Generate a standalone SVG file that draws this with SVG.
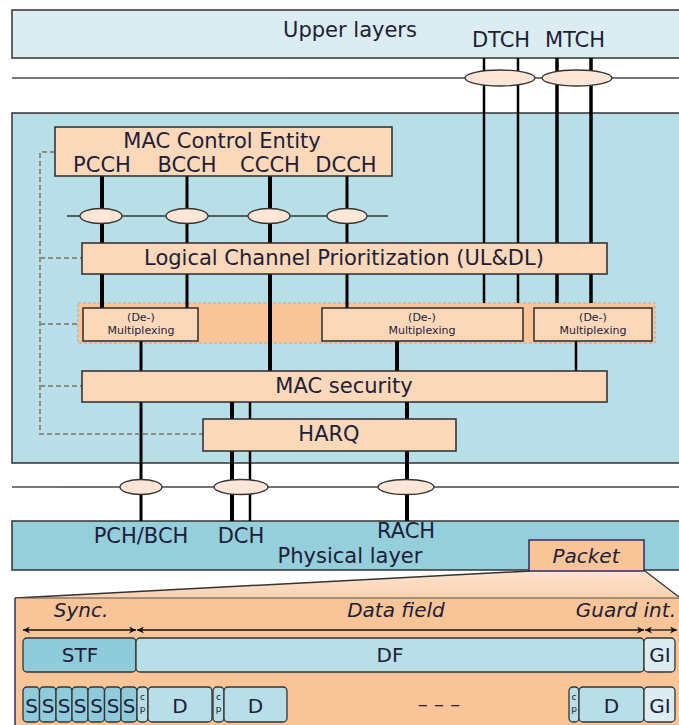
<svg xmlns="http://www.w3.org/2000/svg" width="679" height="725" viewBox="0 0 679 725">
  <defs>
    <style>
      .t { font-family: "DejaVu Sans", Verdana, sans-serif; fill: #1c2038; }
      .big { font-size: 21px; }
      .mid { font-size: 20px; }
      .it { font-style: italic; font-size: 20px; }
      .mux { font-size: 11px; }
      .tiny { font-size: 9px; }
      .box { fill: #fcd8bb; stroke: #2b2b2b; stroke-width: 1.5; }
      .oval { fill: #fde6d7; stroke: #333; stroke-width: 1.3; }
      .ch { stroke: #000; fill: none; }
      .ctl { stroke: #8a8a8a; stroke-width: 2; stroke-dasharray: 5 3; fill: none; }
      .cell { stroke: #333; stroke-width: 1.3; }
    </style>
    <linearGradient id="fan" x1="0" y1="0" x2="0" y2="1">
      <stop offset="0" stop-color="#fde3d0"/>
      <stop offset="1" stop-color="#fad0ad"/>
    </linearGradient>
    <marker id="ah" viewBox="0 0 10 10" refX="10" refY="5" markerWidth="9" markerHeight="7" orient="auto-start-reverse" markerUnits="userSpaceOnUse">
      <path d="M0,0 L10,5 L0,10 L3,5 Z" fill="#111"/>
    </marker>
  </defs>

  <!-- layer backgrounds -->
  <g id="upper-layers">
    <rect x="12" y="10" width="672" height="48" fill="#dcedf2" stroke="#333" stroke-width="1.5"/>
    <text class="t big" x="350" y="37" text-anchor="middle" font-size="22">Upper layers</text>
    <text class="t big" x="501" y="47" text-anchor="middle">DTCH</text>
    <text class="t big" x="575" y="47" text-anchor="middle">MTCH</text>
  </g>

  <g id="mac-area">
    <rect x="12" y="113" width="672" height="350" fill="#b8dee7" stroke="#333" stroke-width="1.5"/>
  </g>

  <g id="physical-layer">
    <rect x="12" y="521" width="672" height="49" fill="#95cfdc" stroke="#333" stroke-width="1.5"/>
    <text class="t big" x="141" y="543" text-anchor="middle" font-size="22">PCH/BCH</text>
    <text class="t big" x="241" y="543" text-anchor="middle" font-size="22">DCH</text>
    <text class="t big" x="406" y="537.5" text-anchor="middle" font-size="22">RACH</text>
    <text class="t big" x="350" y="563" text-anchor="middle" font-size="21.5">Physical layer</text>
  </g>

  <!-- (de-)multiplexing band behind the channel lines -->
  <g id="mux-band">
    <rect x="78" y="303" width="577" height="40" fill="#f9c598" stroke="#b8a896" stroke-width="1" stroke-dasharray="3 2"/>
  </g>

  <!-- channel lines, control lines and SAP ovals -->
  <g id="connectors">
    <!-- service access point rails -->
    <line x1="12" y1="78" x2="679" y2="78" stroke="#444" stroke-width="1.5"/>
    <line x1="12" y1="78" x2="290" y2="78" stroke="#777" stroke-width="2.2"/>
    <line x1="67" y1="216" x2="388" y2="216" stroke="#333" stroke-width="1.3"/>
    <line x1="12" y1="487" x2="679" y2="487" stroke="#444" stroke-width="1.5"/>
    <line x1="12" y1="487" x2="60" y2="487" stroke="#777" stroke-width="2.2"/>

    <!-- DTCH / MTCH -->
    <line class="ch" x1="484" y1="58" x2="484" y2="303" stroke-width="2.5"/>
    <line class="ch" x1="518" y1="58" x2="518" y2="303" stroke-width="2.5"/>
    <line class="ch" x1="557" y1="58" x2="557" y2="303" stroke-width="3.5"/>
    <line class="ch" x1="591" y1="58" x2="591" y2="303" stroke-width="3.5"/>

    <!-- logical control channels -->
    <line class="ch" x1="102" y1="176" x2="102" y2="308" stroke-width="4"/>
    <line class="ch" x1="187" y1="176" x2="187" y2="308" stroke-width="3"/>
    <line class="ch" x1="270" y1="176" x2="270" y2="371" stroke-width="4"/>
    <line class="ch" x1="347" y1="176" x2="347" y2="308" stroke-width="3"/>

    <!-- below (de-)multiplexing -->
    <line class="ch" x1="141" y1="341" x2="141" y2="521" stroke-width="3"/>
    <line class="ch" x1="397" y1="341" x2="397" y2="371" stroke-width="4"/>
    <line class="ch" x1="576" y1="341" x2="576" y2="371" stroke-width="2.5"/>

    <!-- transport channels through HARQ -->
    <line class="ch" x1="232" y1="402" x2="232" y2="521" stroke-width="4"/>
    <line class="ch" x1="250" y1="402" x2="250" y2="521" stroke-width="2.5"/>
    <line class="ch" x1="407" y1="402" x2="407" y2="521" stroke-width="4"/>

    <!-- control path of the MAC control entity -->
    <path class="ctl" d="M55,152 H40 V434 H203"/>
    <line class="ctl" x1="40" y1="258" x2="82" y2="258"/>
    <line class="ctl" x1="40" y1="324" x2="78" y2="324"/>
    <line class="ctl" x1="40" y1="386" x2="82" y2="386"/>

    <!-- SAP ovals -->
    <ellipse class="oval" cx="500" cy="78" rx="35" ry="8"/>
    <ellipse class="oval" cx="577" cy="78" rx="35" ry="8"/>
    <ellipse class="oval" cx="101" cy="216" rx="21" ry="7.5"/>
    <ellipse class="oval" cx="187" cy="216" rx="21" ry="7.5"/>
    <ellipse class="oval" cx="269" cy="216" rx="21" ry="7.5"/>
    <ellipse class="oval" cx="347" cy="216" rx="20" ry="7.5"/>
    <ellipse class="oval" cx="141" cy="487" rx="21" ry="7.5"/>
    <ellipse class="oval" cx="241" cy="487" rx="27" ry="7.5"/>
    <ellipse class="oval" cx="406" cy="487" rx="28" ry="7.5"/>
  </g>

  <!-- MAC functional blocks -->
  <g id="mac-control-entity">
    <rect class="box" x="55" y="127" width="337" height="49"/>
    <text class="t big" x="222" y="148" text-anchor="middle" font-size="21.5">MAC Control Entity</text>
    <text class="t big" x="102" y="172" text-anchor="middle">PCCH</text>
    <text class="t big" x="187" y="172" text-anchor="middle">BCCH</text>
    <text class="t big" x="270" y="172" text-anchor="middle">CCCH</text>
    <text class="t big" x="346" y="172" text-anchor="middle">DCCH</text>
  </g>

  <g id="lcp">
    <rect class="box" x="82" y="243" width="525" height="31"/>
    <text class="t big" x="344" y="265" text-anchor="middle" font-size="22">Logical Channel Prioritization (UL&amp;DL)</text>
  </g>

  <g id="mux-1">
    <rect class="box" x="83" y="308" width="115" height="33"/>
    <text class="t mux" x="141" y="320.5" text-anchor="middle">(De-)</text>
    <text class="t mux" x="141" y="334" text-anchor="middle">Multiplexing</text>
  </g>
  <g id="mux-2">
    <rect class="box" x="322" y="308" width="201" height="33"/>
    <text class="t mux" x="422" y="320.5" text-anchor="middle">(De-)</text>
    <text class="t mux" x="422" y="334" text-anchor="middle">Multiplexing</text>
  </g>
  <g id="mux-3">
    <rect class="box" x="534" y="308" width="118" height="33"/>
    <text class="t mux" x="593" y="320.5" text-anchor="middle">(De-)</text>
    <text class="t mux" x="593" y="334" text-anchor="middle">Multiplexing</text>
  </g>

  <g id="mac-security">
    <rect class="box" x="82" y="371" width="525" height="31"/>
    <text class="t big" x="344" y="393" text-anchor="middle" font-size="22">MAC security</text>
  </g>

  <g id="harq">
    <rect class="box" x="203" y="419" width="253" height="32"/>
    <text class="t big" x="329" y="441" text-anchor="middle" font-size="22">HARQ</text>
  </g>

  <!-- packet format -->
  <g id="packet-detail">
    <polygon points="15,598 530,571 645,571 679,597 679,600 15,600" fill="url(#fan)"/>
    <line x1="15" y1="598" x2="530" y2="571" stroke="#333" stroke-width="1.5"/>
    <line x1="645" y1="571" x2="679" y2="597" stroke="#333" stroke-width="1.3"/>
    <rect x="15" y="598" width="670" height="130" fill="#f9c598"/>
    <line x1="15" y1="598" x2="679" y2="598" stroke="#555" stroke-width="1.2"/>
    <line x1="15" y1="598" x2="15" y2="725" stroke="#2c2c6a" stroke-width="1.5"/>

    <text class="t it" x="81" y="617" text-anchor="middle">Sync.</text>
    <text class="t it" x="396" y="617" text-anchor="middle">Data field</text>
    <text class="t it" x="676" y="617" text-anchor="end">Guard int.</text>

    <line x1="23" y1="630" x2="136" y2="630" stroke="#111" stroke-width="1.3" marker-start="url(#ah)" marker-end="url(#ah)"/>
    <line x1="137" y1="630" x2="644" y2="630" stroke="#111" stroke-width="1.3" marker-start="url(#ah)" marker-end="url(#ah)"/>
    <line x1="645" y1="630" x2="677" y2="630" stroke="#111" stroke-width="1.3" marker-start="url(#ah)" marker-end="url(#ah)"/>

    <rect class="cell" x="23" y="638" width="113" height="34" rx="4" fill="#8fcbdb"/>
    <rect class="cell" x="136" y="638" width="508" height="34" rx="4" fill="#b8dee7"/>
    <rect class="cell" x="644" y="638" width="31" height="34" rx="4" fill="#dcedf2"/>
    <text class="t mid" x="80" y="662" text-anchor="middle">STF</text>
    <text class="t mid" x="390" y="662" text-anchor="middle">DF</text>
    <text class="t mid" x="660" y="662" text-anchor="middle">GI</text>

    <!-- symbol row -->
    <g fill="#8fcbdb">
      <rect class="cell" x="23" y="687" width="16.5" height="35" rx="4"/>
      <rect class="cell" x="39.5" y="687" width="16.5" height="35" rx="4"/>
      <rect class="cell" x="56" y="687" width="16" height="35" rx="4"/>
      <rect class="cell" x="72" y="687" width="16" height="35" rx="4"/>
      <rect class="cell" x="88" y="687" width="16.5" height="35" rx="4"/>
      <rect class="cell" x="104.5" y="687" width="16.5" height="35" rx="4"/>
      <rect class="cell" x="121" y="687" width="16" height="35" rx="4"/>
    </g>
    <g class="t mid" text-anchor="middle">
      <text x="31.5" y="713">S</text>
      <text x="48" y="713">S</text>
      <text x="64" y="713">S</text>
      <text x="80" y="713">S</text>
      <text x="96.5" y="713">S</text>
      <text x="113" y="713">S</text>
      <text x="129" y="713">S</text>
    </g>
    <g fill="#b8dee7">
      <rect class="cell" x="137" y="687" width="11" height="35" rx="4"/>
      <rect class="cell" x="148" y="687" width="64" height="35" rx="4"/>
      <rect class="cell" x="213" y="687" width="11" height="35" rx="4"/>
      <rect class="cell" x="224" y="687" width="63" height="35" rx="4"/>
      <rect class="cell" x="569" y="687" width="10" height="35" rx="4"/>
      <rect class="cell" x="579" y="687" width="65" height="35" rx="4"/>
    </g>
    <rect class="cell" x="644" y="687" width="31" height="35" rx="4" fill="#dcedf2"/>
    <g class="t tiny" text-anchor="middle">
      <text x="142.5" y="700">c</text><text x="142.5" y="712">p</text>
      <text x="218.5" y="700">c</text><text x="218.5" y="712">p</text>
      <text x="574" y="700">c</text><text x="574" y="712">p</text>
    </g>
    <g class="t mid" text-anchor="middle">
      <text x="180" y="713">D</text>
      <text x="255.5" y="713">D</text>
      <text x="611.5" y="713">D</text>
      <text x="660" y="713">GI</text>
      <text x="439" y="711">– – –</text>
    </g>
  </g>

  <g id="packet">
    <rect x="529" y="540" width="115" height="31" fill="#f9c598" stroke="#2c2c6a" stroke-width="1.5"/>
    <text class="t it" x="586" y="563" text-anchor="middle">Packet</text>
  </g>
</svg>
